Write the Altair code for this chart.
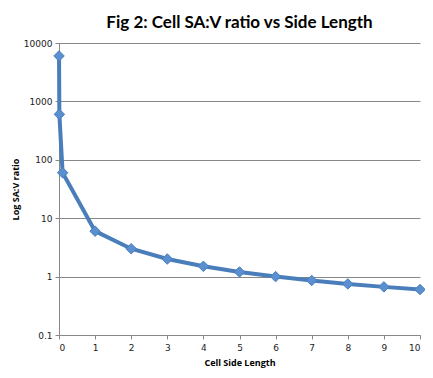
import altair as alt
import pandas as pd

side_length = [0.001, 0.01, 0.1, 1, 2, 3, 4, 5, 6, 7, 8, 9, 10]
sav_ratio = [6000, 600, 60, 6, 3, 2, 1.5, 1.2, 1.0, 0.857, 0.75, 0.667, 0.6]
y_ticks = [0.1, 1, 10, 100, 1000, 10000]
x_ticks = [0, 1, 2, 3, 4, 5, 6, 7, 8, 9, 10]

df = pd.DataFrame({"L": side_length, "R": sav_ratio})

x = alt.X("L:Q", scale=alt.Scale(domain=[0, 10], nice=False, zero=False),
          axis=alt.Axis(values=x_ticks, title="Cell Side Length", grid=False,
                        labelFont="DejaVu Sans", labelFontSize=9, labelColor="#222",
                        titleFont="Open Sans", titleFontSize=9, titleFontWeight="bold",
                        titleColor="#000", titlePadding=6,
                        domainColor="#888", tickColor="#888", tickSize=4, labelPadding=4))
y = alt.Y("R:Q", scale=alt.Scale(type="log", domain=[0.1, 10000], nice=False),
          axis=alt.Axis(values=y_ticks, title="Log SA:V ratio",
                        labelExpr="datum.value >= 1 ? format(datum.value, 'd') : format(datum.value, '.1f')",
                        grid=True, gridColor="#888", gridWidth=1,
                        labelFont="DejaVu Sans", labelFontSize=9, labelColor="#222",
                        titleFont="Open Sans", titleFontSize=9, titleFontWeight="bold",
                        titleColor="#000", titlePadding=3,
                        domainColor="#888", tickColor="#888", tickSize=4, labelPadding=3))

line = alt.Chart(df).mark_line(color="#4a7ebb", strokeWidth=4).encode(x=x, y=y)
pts = alt.Chart(df).mark_point(shape="diamond", filled=True, size=110, color="#5a8fd0",
                               stroke="#4a7ebb", strokeWidth=1, opacity=1).encode(x=x, y=y)

chart = (line + pts).properties(
    width=361, height=292,
    title=alt.TitleParams("Fig 2: Cell SA:V ratio vs Side Length", font="Lato",
                          fontSize=17, fontWeight="bold", color="#000", offset=7),
    autosize=alt.AutoSizeParams(type="none"),
    padding={"left": 51, "top": 35, "right": 5, "bottom": 35},
).configure_view(stroke=None)

chart.save("out.html", embed_options={"renderer": "svg", "actions": False})
